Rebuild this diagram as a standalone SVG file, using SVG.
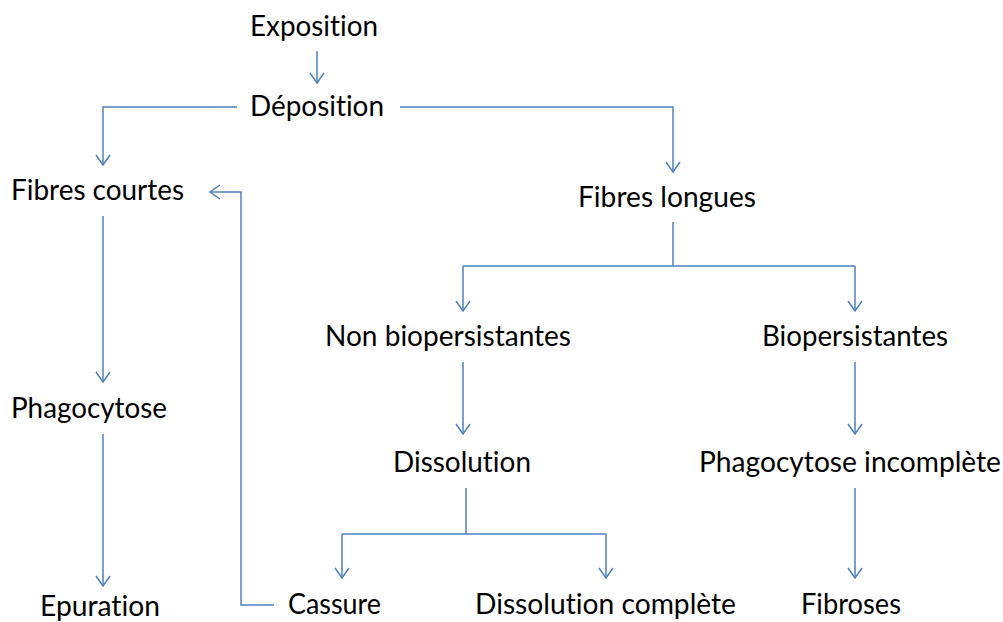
<svg xmlns="http://www.w3.org/2000/svg" width="1003" height="622" viewBox="0 0 1003 622">
<style>
text{font-family:Lato,"Liberation Sans",sans-serif;font-size:28px;fill:#000;font-variant-ligatures:none;font-feature-settings:"liga" 0,"clig" 0}
.c{fill:none;stroke:#4F81BD;stroke-width:1.5}
</style>
<defs>
<marker id="a" viewBox="0 0 12 16" refX="11" refY="8" markerWidth="12" markerHeight="16" markerUnits="userSpaceOnUse" orient="auto">
<path d="M1 1 L11 8 L1 15" fill="none" stroke="#4F81BD" stroke-width="1.5"/>
</marker>
</defs>
<rect width="1003" height="622" fill="#fff"/>
<g id="connectors">
<path class="c" d="M317 51 V83" marker-end="url(#a)"/>
<path class="c" d="M237 107 H103 V165" marker-end="url(#a)"/>
<path class="c" d="M400 107 H673 V172" marker-end="url(#a)"/>
<path class="c" d="M103 216 V382" marker-end="url(#a)"/>
<path class="c" d="M103 434 V586" marker-end="url(#a)"/>
<path class="c" d="M274 605 H241 V192 H210" marker-end="url(#a)"/>
<path class="c" d="M673 222 V266"/>
<path class="c" d="M463 266 H855"/>
<path class="c" d="M463 266 V311" marker-end="url(#a)"/>
<path class="c" d="M855 266 V311" marker-end="url(#a)"/>
<path class="c" d="M463 362 V434" marker-end="url(#a)"/>
<path class="c" d="M855 362 V434" marker-end="url(#a)"/>
<path class="c" d="M466 488 V534"/>
<path class="c" d="M342 534 H606"/>
<path class="c" d="M342 534 V578" marker-end="url(#a)"/>
<path class="c" d="M606 534 V578" marker-end="url(#a)"/>
<path class="c" d="M855 488 V578" marker-end="url(#a)"/>
</g>
<g id="n-exposition"><text x="250" y="36" textLength="128" lengthAdjust="spacingAndGlyphs">Exposition</text></g>
<g id="n-deposition"><text x="250" y="116" textLength="134" lengthAdjust="spacingAndGlyphs">Déposition</text></g>
<g id="n-fibres-courtes"><text x="11" y="200" textLength="173" lengthAdjust="spacingAndGlyphs">Fibres courtes</text></g>
<g id="n-fibres-longues"><text x="578" y="207" textLength="178" lengthAdjust="spacingAndGlyphs">Fibres longues</text></g>
<g id="n-non-bio"><text x="325" y="346" textLength="246" lengthAdjust="spacingAndGlyphs">Non biopersistantes</text></g>
<g id="n-bio"><text x="762" y="346" textLength="186" lengthAdjust="spacingAndGlyphs">Biopersistantes</text></g>
<g id="n-phagocytose"><text x="11" y="418" textLength="156" lengthAdjust="spacingAndGlyphs">Phagocytose</text></g>
<g id="n-dissolution"><text x="393" y="472" textLength="138" lengthAdjust="spacingAndGlyphs">Dissolution</text></g>
<g id="n-phago-inc"><text x="699" y="472" textLength="302" lengthAdjust="spacingAndGlyphs">Phagocytose incomplète</text></g>
<g id="n-epuration"><text x="40" y="616" textLength="120" lengthAdjust="spacingAndGlyphs">Epuration</text></g>
<g id="n-cassure"><text x="288" y="614" textLength="93" lengthAdjust="spacingAndGlyphs">Cassure</text></g>
<g id="n-dissolution-complete"><text x="475" y="614" textLength="261" lengthAdjust="spacingAndGlyphs">Dissolution complète</text></g>
<g id="n-fibroses"><text x="801" y="614" textLength="100" lengthAdjust="spacingAndGlyphs">Fibroses</text></g>
</svg>
